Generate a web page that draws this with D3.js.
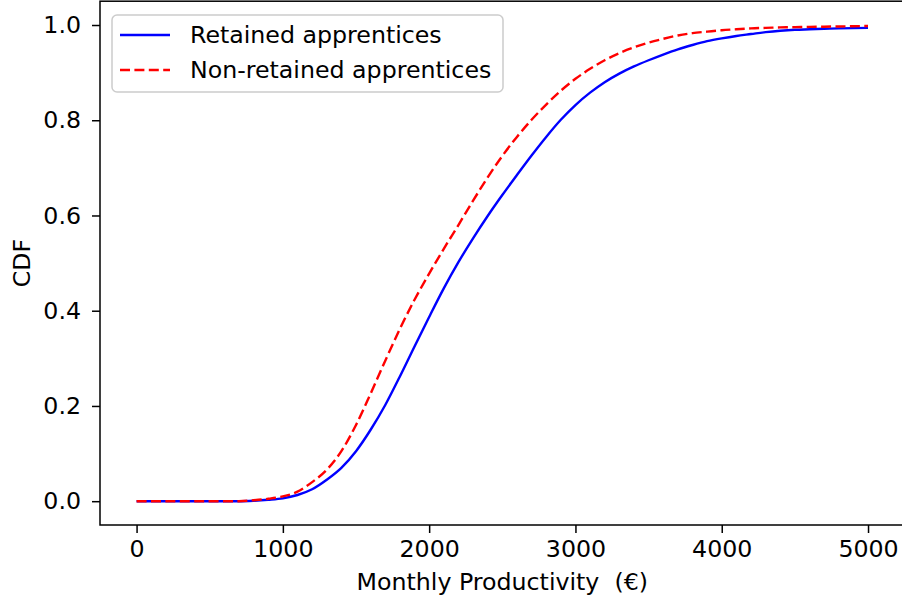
<!DOCTYPE html>
<html>
<head>
<meta charset="utf-8">
<script src="https://cdn.jsdelivr.net/npm/d3@7"></script>
<style>
  body { margin: 0; background: #fff; }
  text { font-family: "DejaVu Sans", sans-serif; }
</style>
</head>
<body>
<script>
// CDF of monthly productivity, retained vs non-retained apprentices

// x grid (euros), one value every 100
const productivity = d3.range(0, 5001, 100);

const retainedCdf = [
  0, 0, 0, 0, 0, 0, 0, 0, 0.001, 0.003,
  0.006, 0.013, 0.025, 0.045, 0.07, 0.105, 0.15, 0.202, 0.262, 0.325,
  0.387, 0.447, 0.502, 0.552, 0.599, 0.643, 0.685, 0.726, 0.765, 0.801,
  0.832, 0.858, 0.88, 0.898, 0.913, 0.926, 0.938, 0.949, 0.958, 0.966,
  0.972, 0.977, 0.981, 0.985, 0.988, 0.99, 0.991, 0.992, 0.993, 0.9935,
  0.994
];

const nonRetainedCdf = [
  0, 0, 0, 0, 0, 0, 0, 0, 0.002, 0.005,
  0.01, 0.02, 0.04, 0.066, 0.105, 0.16, 0.226, 0.295, 0.362, 0.423,
  0.478, 0.53, 0.58, 0.631, 0.68, 0.725, 0.765, 0.801, 0.833, 0.862,
  0.887, 0.908, 0.926, 0.941, 0.953, 0.963, 0.971, 0.978, 0.983, 0.986,
  0.989, 0.991, 0.993, 0.994, 0.995, 0.9955, 0.996, 0.9965, 0.997, 0.9975,
  0.998
];

const xTicks = [0, 1000, 2000, 3000, 4000, 5000];
const yTicks = [0.0, 0.2, 0.4, 0.6, 0.8, 1.0];

const seriesNames = ["Retained apprentices", "Non-retained apprentices"];

const width = 902;
const height = 603;

const svg = d3.select("body")
  .append("svg")
  .attr("width", width)
  .attr("height", height);

// axes box
const box = {left: 100, right: 904.6, top: 1.2, bottom: 525};

const xScale = d3.scaleLinear()
  .domain([-250, 5250])
  .range([box.left, box.right]);

const yScale = d3.scaleLinear()
  .domain([-0.05, 1.05])
  .range([box.bottom, box.top]);

const fontSize = 23.7;

// x axis
const xAxis = svg.append("g")
  .attr("transform", `translate(0,${box.bottom})`)
  .call(d3.axisBottom(xScale).tickValues(xTicks).tickFormat(d3.format("d"))
    .tickSizeOuter(0).tickSize(8).tickPadding(7));
xAxis.select(".domain").remove();
xAxis.selectAll("line").attr("stroke", "#000").attr("stroke-width", 1.5);
xAxis.selectAll("text").attr("font-size", fontSize).attr("fill", "#000")
  .attr("font-family", "DejaVu Sans");

// y axis
const yAxis = svg.append("g")
  .attr("transform", `translate(${box.left},0)`)
  .call(d3.axisLeft(yScale).tickValues(yTicks).tickFormat(d3.format(".1f"))
    .tickSizeOuter(0).tickSize(8).tickPadding(11));
yAxis.select(".domain").remove();
yAxis.selectAll("line").attr("stroke", "#000").attr("stroke-width", 1.5);
yAxis.selectAll("text").attr("font-size", fontSize).attr("fill", "#000")
  .attr("font-family", "DejaVu Sans");

// spines
svg.append("rect")
  .attr("x", box.left)
  .attr("y", box.top)
  .attr("width", box.right - box.left)
  .attr("height", box.bottom - box.top)
  .attr("fill", "none")
  .attr("stroke", "#000")
  .attr("stroke-width", 1.5);

// axis labels
svg.append("text")
  .attr("x", (box.left + box.right) / 2)
  .attr("y", 582)
  .attr("dy", "0.35em")
  .attr("text-anchor", "middle")
  .attr("font-size", fontSize)
  .text("Monthly Productivity  (€)")
  .style("white-space", "pre");

svg.append("text")
  .attr("transform", `translate(22,${(box.top + box.bottom) / 2}) rotate(-90)`)
  .attr("dy", "0.35em")
  .attr("text-anchor", "middle")
  .attr("font-size", fontSize)
  .text("CDF");

const line = d3.line()
  .x((d, i) => xScale(productivity[i]))
  .y(d => yScale(d))
  .curve(d3.curveMonotoneX);

svg.append("path")
  .datum(retainedCdf)
  .attr("fill", "none")
  .attr("stroke", "blue")
  .attr("stroke-width", 2.4)
  .attr("d", line);

svg.append("path")
  .datum(nonRetainedCdf)
  .attr("fill", "none")
  .attr("stroke", "red")
  .attr("stroke-width", 2.4)
  .attr("stroke-dasharray", "10,4.4")
  .attr("d", line);

// legend
const legend = svg.append("g");
legend.append("rect")
  .attr("x", 112)
  .attr("y", 15)
  .attr("width", 391)
  .attr("height", 77)
  .attr("rx", 5)
  .attr("fill", "#fff")
  .attr("fill-opacity", 0.8)
  .attr("stroke", "#cccccc")
  .attr("stroke-width", 1.5);

const legendStyles = [
  {color: "blue", dash: null},
  {color: "red", dash: "10,4.4"}
];

seriesNames.forEach((name, i) => {
  const y = 35 + i * 35;
  legend.append("line")
    .attr("x1", 120).attr("x2", 170)
    .attr("y1", y).attr("y2", y)
    .attr("stroke", legendStyles[i].color)
    .attr("stroke-width", 2.4)
    .attr("stroke-dasharray", legendStyles[i].dash);
  legend.append("text")
    .attr("x", 190)
    .attr("y", y)
    .attr("dy", "0.35em")
    .attr("font-size", fontSize)
    .text(name);
});
</script>
</body>
</html>
